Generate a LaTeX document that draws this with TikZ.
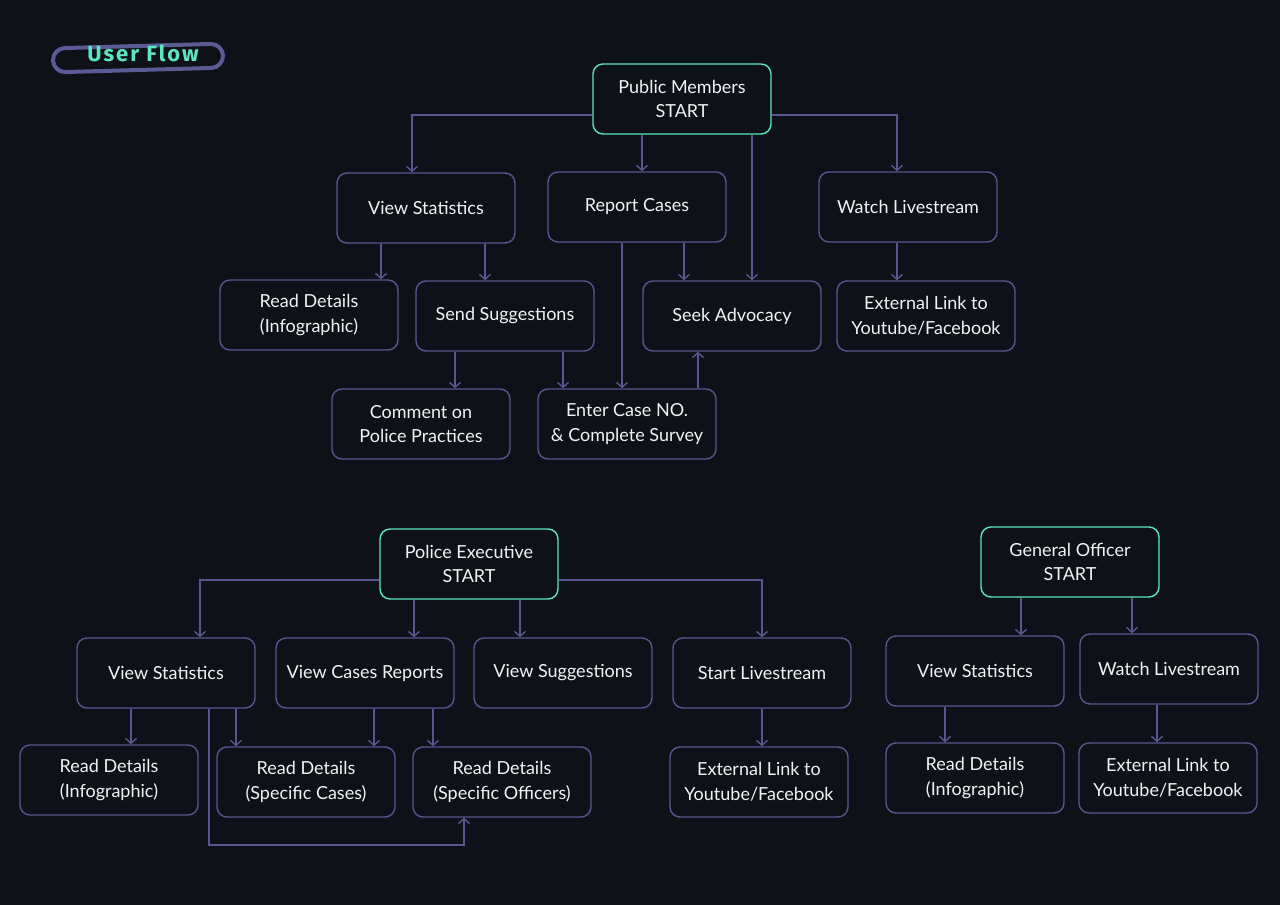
\documentclass[tikz,border=0pt]{standalone}
\usepackage{fontspec}
\setmainfont{Lato}
\newfontfamily\titlefont[LetterSpace=9]{Fira Sans}
\usetikzlibrary{arrows.meta}
\definecolor{bg}{HTML}{0E1118}
\definecolor{edge}{HTML}{57578F}
\definecolor{teal}{HTML}{5CE6C0}
\definecolor{txt}{HTML}{F2F2F2}
\definecolor{pill}{HTML}{5A5A94}
\begin{document}
\begin{tikzpicture}[x=1pt,y=-1pt,
  box/.style={draw=edge, line width=1.4pt, rounded corners=10pt, minimum width=178pt, minimum height=70pt,
    text=txt, align=center, inner sep=0pt, font=\fontsize{18}{24.5}\selectfont, fill=bg},
  startbox/.style={box, draw=teal},
  conn/.style={draw=edge, line width=1.4pt, -{Straight Barb[length=5pt,width=11pt,line width=1.4pt]}},
]
\useasboundingbox (0,0) rectangle (1280,905);
\fill[bg] (0,0) rectangle (1280,905);

% title
\node[draw=pill, line width=4pt, rounded corners=12pt, minimum width=170pt, minimum height=24pt, rotate=1.6, inner sep=0pt] (pillbox) at (138,58) {};
\node[text=teal, font=\titlefont\bfseries\fontsize{22}{24}\selectfont, inner sep=0pt] (title) at (143,53) {User Flow};

% Public members group
\node[startbox] (PM) at (682,99) {Public Members\\START};
\node[box] (VS1) at (426,208) {View Statistics};
\node[box] (RC) at (637,207) {Report Cases};
\node[box] (WL1) at (908,207) {Watch Livestream};
\node[box] (RD1) at (309,315) {Read Details\\(Infographic)};
\node[box] (SS) at (505,316) {Send Suggestions};
\node[box] (SA) at (732,316) {Seek Advocacy};
\node[box] (EL1) at (926,316) {External Link to\\Youtube/Facebook};
\node[box] (CP) at (421,424) {Comment on\\Police Practices};
\node[box] (EC) at (627,424) {Enter Case NO.\\\& Complete Survey};

\draw[conn] (PM.west |- 0,115) -| (VS1.north -| 412,0);
\draw[conn] (PM.south -| 642,0) -- (RC.north -| 642,0);
\draw[conn] (PM.south -| 752,0) -- (SA.north -| 752,0);
\draw[conn] (PM.east |- 0,115) -| (WL1.north -| 897,0);
\draw[conn] (VS1.south -| 381,0) -- (RD1.north -| 381,0);
\draw[conn] (VS1.south -| 485,0) -- (SS.north -| 485,0);
\draw[conn] (RC.south -| 684,0) -- (SA.north -| 684,0);
\draw[conn] (RC.south -| 622,0) -- (EC.north -| 622,0);
\draw[conn] (SS.south -| 455,0) -- (CP.north -| 455,0);
\draw[conn] (SS.south -| 563,0) -- (EC.north -| 563,0);
\draw[conn] (EC.north -| 698,0) -- (SA.south -| 698,0);
\draw[conn] (WL1.south -| 897,0) -- (EL1.north -| 897,0);

% Police executive group
\node[startbox] (PE) at (469,564) {Police Executive\\START};
\node[box] (VS2) at (166,673) {View Statistics};
\node[box] (VCR) at (365,673) {View Cases Reports};
\node[box] (VSug) at (563,673) {View Suggestions};
\node[box] (SL) at (762,673) {Start Livestream};
\node[box] (RD2) at (109,780) {Read Details\\(Infographic)};
\node[box] (RDC) at (306,782) {Read Details\\(Specific Cases)};
\node[box] (RDO) at (502,782) {Read Details\\(Specific Officers)};
\node[box] (EL2) at (759,782) {External Link to\\Youtube/Facebook};

\draw[conn] (PE.west |- 0,580) -| (VS2.north -| 200,0);
\draw[conn] (PE.south -| 414,0) -- (VCR.north -| 414,0);
\draw[conn] (PE.south -| 520,0) -- (VSug.north -| 520,0);
\draw[conn] (PE.east |- 0,580) -| (SL.north -| 762,0);
\draw[conn] (VS2.south -| 131,0) -- (RD2.north -| 131,0);
\draw[conn] (VS2.south -| 236,0) -- (RDC.north -| 236,0);
\draw[conn] (VS2.south -| 209,0) |- (464,845) -- (RDO.south -| 464,0);
\draw[conn] (VCR.south -| 374,0) -- (RDC.north -| 374,0);
\draw[conn] (VCR.south -| 433,0) -- (RDO.north -| 433,0);
\draw[conn] (SL.south -| 762,0) -- (EL2.north -| 762,0);

% General officer group
\node[startbox] (GO) at (1070,562) {General Officer\\START};
\node[box] (VS3) at (975,671) {View Statistics};
\node[box] (WL3) at (1169,669) {Watch Livestream};
\node[box] (RD3) at (975,778) {Read Details\\(Infographic)};
\node[box] (EL3) at (1168,778) {External Link to\\Youtube/Facebook};

\draw[conn] (GO.south -| 1021,0) -- (VS3.north -| 1021,0);
\draw[conn] (GO.south -| 1132,0) -- (WL3.north -| 1132,0);
\draw[conn] (VS3.south -| 945,0) -- (RD3.north -| 945,0);
\draw[conn] (WL3.south -| 1157,0) -- (EL3.north -| 1157,0);
\end{tikzpicture}
\end{document}
